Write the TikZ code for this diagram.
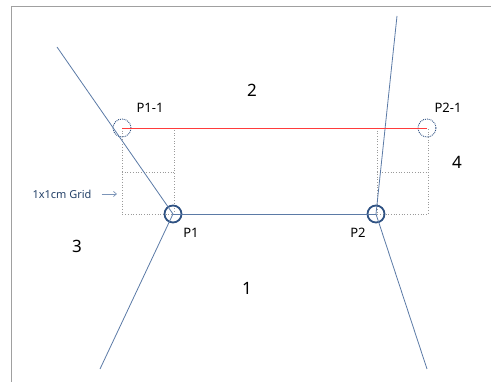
\documentclass[tikz,border=0pt]{standalone}
\usepackage{fontspec}
\setmainfont{Noto Sans}
\usetikzlibrary{arrows.meta}

\definecolor{edgeblue}{HTML}{5B7AA6}
\definecolor{ringblue}{HTML}{2F5283}
\definecolor{linkred}{HTML}{FF3B3B}
\definecolor{framegray}{HTML}{A0A0A0}
\definecolor{gridgray}{HTML}{9A9A9A}

\begin{document}
\begin{tikzpicture}[
  x=1pt, y=-1pt,
  vertex/.style={circle, draw=ringblue, line width=1.8pt, minimum size=17pt, inner sep=0pt},
  ghost/.style={circle, draw=ringblue, densely dotted, line width=0.9pt, minimum size=18pt, inner sep=0pt},
  edge/.style={draw=edgeblue, line width=0.8pt},
  gridline/.style={draw=gridgray, dotted, line width=0.7pt},
  tag/.style={font=\fontsize{13}{15}\selectfont, inner sep=1pt},
  region/.style={font=\fontsize{17}{19}\selectfont, inner sep=1pt}
]
  \useasboundingbox (0,0) rectangle (491,382);
  % screenshot frame, only top and left visible
  \draw[framegray, line width=1pt] (491,7) -- (11,7) -- (11,382);

  % 1x1cm grid cells beside both ends
  \foreach \xa/\xb in {122/174, 377/428} {
    \draw[gridline] (\xa,128) rectangle (\xb,214);
    \draw[gridline] (\xa,172) -- (\xb,172);
  }

  \node[vertex] (p1) at (173,214) {};
  \node[vertex] (p2) at (376,214) {};
  \node[ghost] (p11) at (122,128) {};
  \node[ghost] (p21) at (427,128) {};

  \coordinate (endtl) at (57,47);
  \coordinate (endbl) at (100,369);
  \coordinate (endtr) at (397,16);
  \coordinate (endbr) at (427,369);

  \draw[edge] (endtl) -- (p1.center);
  \draw[edge] (p1.center) -- (endbl);
  \draw[edge] (p1.center) -- (p2.center);
  \draw[edge] (endtr) -- (p2.center);
  \draw[edge] (p2.center) -- (endbr);
  \draw[linkred, line width=0.9pt] (p11.center) -- (p21.center);

  \node[tag] (lp1) at (191,233) {P1};
  \node[tag] (lp2) at (358,233) {P2};
  \node[tag] (lp11) at (150,108) {P1-1};
  \node[tag] (lp21) at (448,108) {P2-1};

  \node[region] (r1) at (247,288) {1};
  \node[region] (r2) at (252,90) {2};
  \node[region] (r3) at (77,246) {3};
  \node[region] (r4) at (457,162) {4};

  \node[font=\fontsize{11}{13}\selectfont, text=ringblue!80!black, inner sep=1pt] (gridnote) at (62,194) {1x1cm Grid};
  \coordinate (gridtip) at (117,194);
  \draw[-{Straight Barb[length=3pt, width=5pt]}, edgeblue!80, line width=0.7pt] (gridnote.east) ++(9,0) -- (gridtip);
\end{tikzpicture}
\end{document}
